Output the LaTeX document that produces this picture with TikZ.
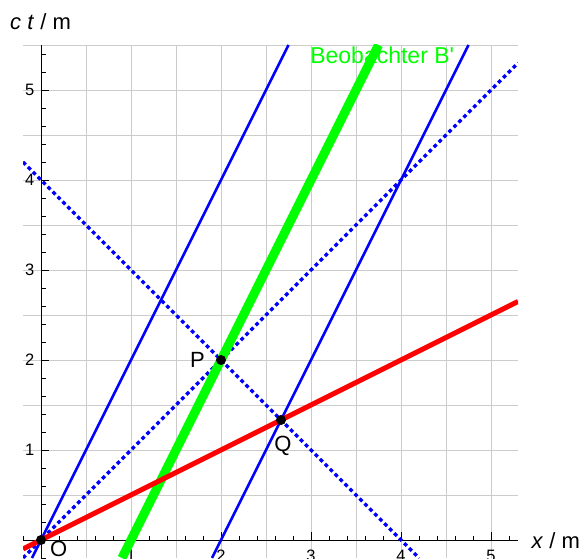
\documentclass[tikz,border=0pt]{standalone}
\usepackage{fontspec}
\setmainfont{Liberation Sans}
\tikzset{
  gridline/.style={draw=black!20, line width=0.9bp},
  axisline/.style={draw=black, line width=1bp},
  majortick/.style={draw=black, line width=0.9bp},
  worldline/.style={draw=blue, line width=2.6bp},
  lightline/.style={draw=blue, line width=3.2bp, dash pattern=on 3.8bp off 3.2bp},
  redline/.style={draw=red, line width=5bp},
  greenline/.style={draw=green, line width=9bp},
  eventdot/.style={circle, fill=black, inner sep=0pt, minimum size=10bp},
  ticklabel/.style={inner sep=0pt, font=\fontsize{16.5bp}{18bp}\selectfont},
  biglabel/.style={inner sep=0pt, font=\fontsize{22bp}{24bp}\selectfont}
}
\begin{document}
\begin{tikzpicture}[x=90bp,y=90bp]
\useasboundingbox (-0.45556,-0.21111) rectangle (6.03333,6.0);
% grid
\foreach \g in {0.5,1,...,5.0} \draw[gridline] (\g,-0.2) -- (\g,5.5);
\foreach \g in {0.5,1,...,5.5} \draw[gridline] (-0.2,\g) -- (5.3,\g);
% axes
\coordinate (xl) at (-0.2,0);
\coordinate (xr) at (5.3,0);
\coordinate (yb) at (0,-0.2);
\coordinate (yt) at (0,5.5);
\draw[axisline] (xl) -- (xr);
\draw[axisline] (yb) -- (yt);
% ticks
\foreach \t in {-0.2,0.2,0.4,...,5.21} \draw[majortick] (\t,0) -- ++(0,4.5bp);
\foreach \t in {1,...,5} \draw[majortick] (\t,0) -- ++(0,8bp);
\foreach \t in {-0.2,0.2,0.4,...,5.41} \draw[majortick] (0,\t) -- ++(4.5bp,0);
\foreach \t in {1,...,5} \draw[majortick] (0,\t) -- ++(8bp,0);
\foreach \t in {1,...,5} {
  \node[ticklabel, anchor=north] (xt\t) at (\t,-0.111) {\t};
  \node[ticklabel, anchor=east] (yt\t) at (-0.072,\t) {\t};
}
% end points of lines
\coordinate (r1) at (-0.2,-0.1);
\coordinate (r2) at (5.3,2.65);
\coordinate (g1) at (0.9,-0.2);
\coordinate (g2) at (3.75,5.5);
\coordinate (b1) at (-0.1,-0.2);
\coordinate (b2) at (2.75,5.5);
\coordinate (c1) at (1.9,-0.2);
\coordinate (c2) at (4.75,5.5);
\coordinate (d1) at (-0.2,-0.2);
\coordinate (d2) at (5.3,5.3);
\coordinate (e1) at (-0.2,4.2);
\coordinate (e2) at (4.2,-0.2);
\begin{scope}
\clip (-0.2,-0.2) rectangle (5.3,5.5);
\draw[worldline] (b1) -- (b2);
\draw[worldline] (c1) -- (c2);
\draw[lightline] (d1) -- (d2);
\draw[lightline] (e1) -- (e2);
\draw[greenline] (g1) -- (g2);
\draw[redline] (r1) -- (r2);
\end{scope}
% events
\node[eventdot] (O) at (0,0) {};
\node[eventdot] (P) at (2,2) {};
\node[eventdot] (Q) at (8/3,4/3) {};
\node[biglabel, anchor=east] (Plab) at (1.822,2.0) {P};
\node[biglabel, anchor=north] (Qlab) at (2.689,1.16) {Q};
\node[biglabel, anchor=north west] (Olab) at (0.1,-0.005) {O};
% axis labels and observer label
\node[biglabel, anchor=base west] (ylab) at (-0.344,5.667) {\textit{c} \textit{t} / m};
\node[biglabel, anchor=base west] (xlab) at (5.45,-0.089) {\textit{x} / m};
\node[biglabel, anchor=base west, text=green, font=\fontsize{23bp}{25bp}\selectfont] (blab) at (2.99,5.296) {Beobachter B\textquotesingle};
\end{tikzpicture}
\end{document}
